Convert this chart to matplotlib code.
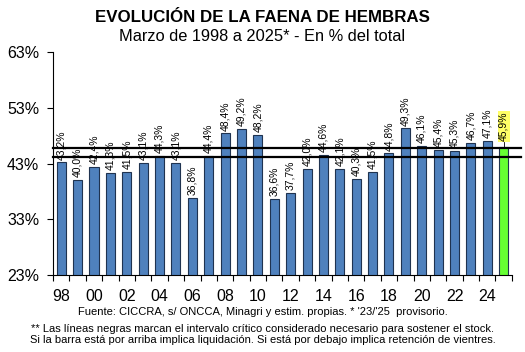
import numpy as np
import matplotlib.pyplot as plt

plt.rcParams['font.family'] = ['Liberation Sans', 'DejaVu Sans']

years = ['98', '99', '00', '01', '02', '03', '04', '05', '06', '07', '08', '09', '10',
         '11', '12', '13', '14', '15', '16', '17', '18', '19', '20', '21', '22', '23',
         '24', '25']
share = [43.2, 40.0, 42.4, 41.3, 41.5, 43.1, 44.3, 43.1, 36.8, 44.4, 48.4, 49.2, 48.2,
         36.6, 37.7, 42.0, 44.6, 42.1, 40.3, 41.5, 44.8, 49.3, 46.1, 45.4, 45.3, 46.7,
         47.1, 45.9]
critical = [44.1, 45.7]

fig = plt.figure(figsize=(5.25, 3.52), dpi=100)
ax = fig.add_axes([0.101, 0.219, 0.874, 0.633])

x = np.arange(len(years))
colors = ['#4F81BD'] * (len(years) - 1) + ['#66FF33']
ax.bar(x, share, width=0.55, color=colors, edgecolor='#1F3350', linewidth=0.8,
       zorder=2)

for i, v in enumerate(share):
    txt = f"{v:.1f}%".replace('.', ',')
    if i == len(share) - 1:
        ax.text(i, v + 1.1, txt, rotation=90, ha='center', va='bottom', fontsize=7.5,
                bbox=dict(boxstyle='square,pad=0.1', fc='#FFFF66', ec='none'))
        ax.plot([i, i], [v, v + 1.0], color='black', lw=0.6)
    else:
        ax.text(i, v + 0.5, txt, rotation=90, ha='center', va='bottom', fontsize=7.5)

for c in critical:
    ax.axhline(c, xmin=0, xmax=1.02, color='black', lw=1.6, clip_on=False, zorder=3)

ax.set_ylim(23, 63)
ax.set_yticks([23, 33, 43, 53, 63])
ax.set_yticklabels(['23%', '33%', '43%', '53%', '63%'], fontsize=11.5)
ax.set_xlim(-0.5, len(years) - 0.5)
ax.set_xticks(np.arange(-0.5, len(years), 1.0))
ax.set_xticklabels([])
ax.set_xticks(x[::2], minor=True)
ax.set_xticklabels(years[::2], minor=True, fontsize=11.5)
ax.tick_params(axis='x', which='minor', length=0, pad=10)
ax.tick_params(axis='x', which='major', length=4, direction='out')
ax.tick_params(axis='y', length=4, direction='out', pad=6)
ax.spines['top'].set_visible(False)
ax.spines['right'].set_visible(False)

fig.text(0.5, 0.95, 'EVOLUCIÓN DE LA FAENA DE HEMBRAS', ha='center', va='center',
         fontsize=12.2, fontweight='bold')
fig.text(0.5, 0.897, 'Marzo de 1998 a 2025* - En % del total', ha='center', va='center',
         fontsize=11.8)
fig.text(0.5, 0.113, "Fuente: CICCRA, s/ ONCCA, Minagri y estim. propias. * '23/'25  provisorio.",
         ha='center', va='center', fontsize=8)
fig.text(0.5, 0.065, '** Las líneas negras marcan el intervalo crítico considerado necesario para sostener el stock.',
         ha='center', va='center', fontsize=8)
fig.text(0.5, 0.033, 'Si la barra está por arriba implica liquidación. Si está por debajo implica retención de vientres.',
         ha='center', va='center', fontsize=8)

fig.savefig('out.png', dpi=100)
